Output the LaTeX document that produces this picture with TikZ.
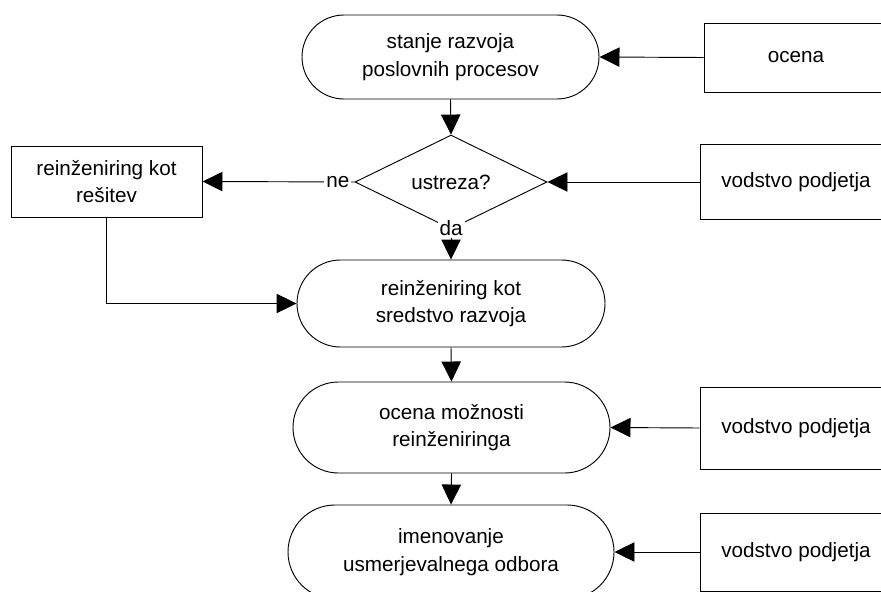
\documentclass[tikz,border=0pt]{standalone}
\usepackage{fontspec}
\setmainfont{Liberation Sans}
\usetikzlibrary{arrows.meta,shapes.geometric}

\begin{document}
\begin{tikzpicture}[
  x=0.75pt, y=-0.75pt,
  every node/.style={font=\fontsize{15.5}{20.5}\selectfont, align=center, inner sep=0pt},
  lw/.style={line width=0.7pt},
  terminal/.style={lw, draw, rectangle, minimum width=#1},
  procbox/.style={lw, draw, rectangle},
  decision/.style={lw, draw, diamond, minimum width=144pt, minimum height=58.5pt},
  flow/.style={lw, -{Triangle[length=15pt, width=14.5pt]}},
  tag/.style={fill=white, inner sep=1.5pt}
]
\useasboundingbox (0,0) rectangle (881,592);

% main column
\node[terminal=222.75pt, minimum height=63pt, rounded corners=31.5pt] (t1) at (450.5,57)
  {stanje razvoja\\poslovnih procesov};
\node[decision] (d) at (451,182) {ustreza?};
\node[terminal=231pt, minimum height=65.25pt, rounded corners=32.6pt] (t2) at (451,303.5)
  {reinženiring kot\\sredstvo razvoja};
\node[terminal=237.75pt, minimum height=68.25pt, rounded corners=34.1pt] (t3) at (451.5,427.5)
  {ocena možnosti\\reinženiringa};
\node[terminal=244.5pt, minimum height=70.5pt, rounded corners=35.25pt] (t4) at (451,552)
  {imenovanje\\usmerjevalnega odbora};

% side boxes
\node[procbox, minimum width=143.25pt, minimum height=53.25pt] (sol) at (106.5,181.5)
  {reinženiring kot\\rešitev};
\node[procbox, minimum width=138pt, minimum height=51.75pt] (oc) at (796,57.5) {ocena};
\node[procbox, minimum width=144pt, minimum height=56.25pt] (v1) at (796,182) {vodstvo podjetja};
\node[procbox, minimum width=144pt, minimum height=61.5pt] (v2) at (796,428) {vodstvo podjetja};
\node[procbox, minimum width=144pt, minimum height=58.5pt] (v3) at (796,552) {vodstvo podjetja};

% connectors
\draw[flow] (t1.south) -- (d.north);
\draw[flow] (d.south) -- node[tag, pos=0.15, yshift=4pt] {da} (t2.north);
\draw[flow] (d.west) -- node[tag, pos=0.11] {ne} (sol.east);
\draw[flow] (sol.south) |- (t2.west);
\draw[flow] (t2.south) -- (t3.north);
\draw[flow] (t3.south) -- (t4.north);
\draw[flow] (oc.west) -- (t1.east);
\draw[flow] (v1.west) -- (d.east);
\draw[flow] (v2.west) -- (t3.east);
\draw[flow] (v3.west) -- (t4.east);
\end{tikzpicture}
\end{document}
